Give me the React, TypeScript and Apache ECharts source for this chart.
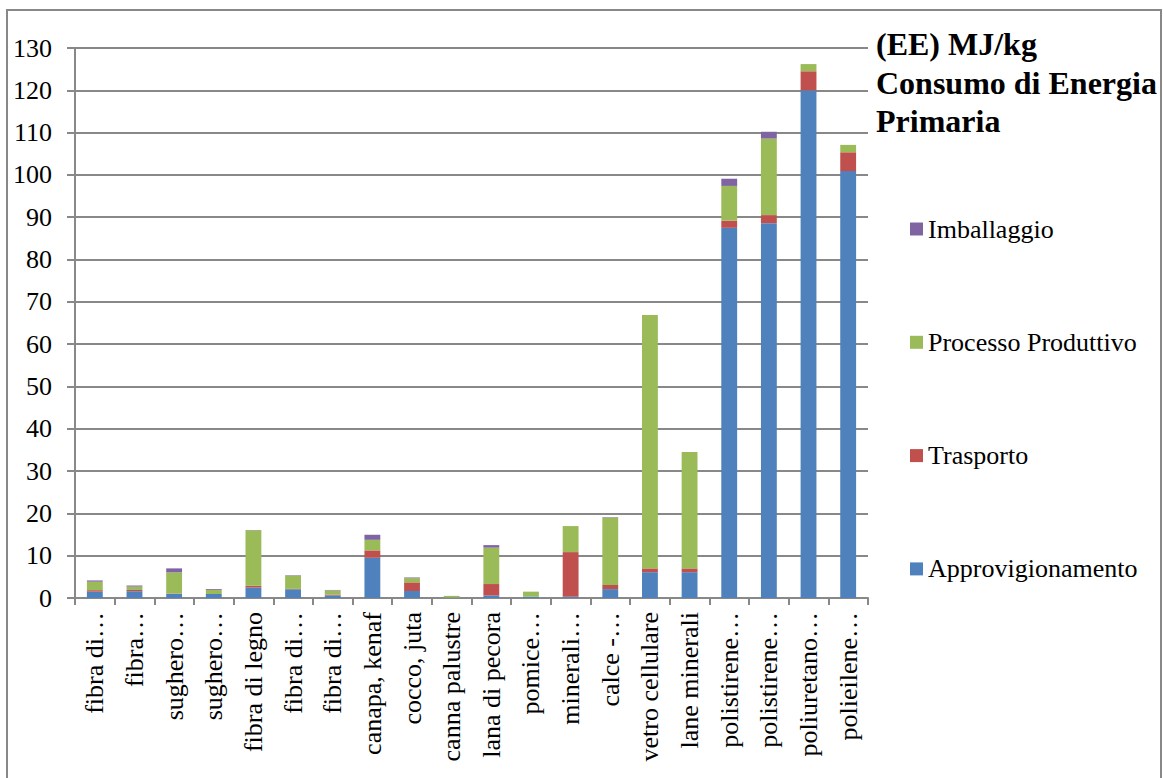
import React, { useEffect, useRef } from "react";
import * as echarts from "echarts";

// Insulation materials (labels as shown on the axis)
const categories = [
  "fibra di…",
  "fibra…",
  "sughero…",
  "sughero…",
  "fibra di legno",
  "fibra di…",
  "fibra di…",
  "canapa, kenaf",
  "cocco, juta",
  "canna palustre",
  "lana di pecora",
  "pomice…",
  "minerali…",
  "calce -…",
  "vetro cellulare",
  "lane minerali",
  "polistirene…",
  "polistirene…",
  "poliuretano…",
  "polieilene…",
];

// Embodied energy components, MJ/kg
const approvvigionamento = [1.5, 1.6, 0.95, 0.95, 2.5, 2.05, 0.6, 9.5, 1.65, 0.1, 0.6, 0.3, 0.3, 2.1, 6.1, 6.1, 87.5, 88.6, 120, 100.9];
const trasporto = [0.35, 0.3, 0.1, 0, 0.4, 0.1, 0.2, 1.75, 2.05, 0, 2.7, 0, 10.55, 1.0, 0.9, 0.9, 1.7, 1.9, 4.5, 4.45];
const processoProduttivo = [2.0, 0.8, 5.0, 0.95, 13.1, 3.15, 1.0, 2.5, 1.0, 0.4, 8.6, 1.2, 6.15, 15.9, 59.9, 27.5, 8.2, 18.1, 1.7, 1.75];
const imballaggio = [0.3, 0.25, 0.95, 0.2, 0.1, 0.1, 0.1, 1.2, 0.15, 0, 0.6, 0, 0, 0.1, 0, 0, 1.7, 1.6, 0, 0];

const seriesNames = ["Approvigionamento", "Trasporto", "Processo Produttivo", "Imballaggio"];
const seriesColors = ["#4f81bd", "#c0504d", "#9bbb59", "#8064a2"];
const seriesValues = [approvvigionamento, trasporto, processoProduttivo, imballaggio];

const yTicks = { min: 0, max: 130, interval: 10 };

const FONT = "'Liberation Serif', 'Times New Roman', serif";
const GRAY = "#888888";

export default function App() {
  const ref = useRef<HTMLDivElement>(null);

  useEffect(() => {
    if (!ref.current) return;
    const chart = echarts.init(ref.current, undefined, { renderer: "svg" });

    chart.setOption({
      animation: false,
      backgroundColor: "#ffffff",
      title: {
        text: "(EE) MJ/kg\nConsumo di Energia\nPrimaria",
        left: 876,
        top: 25,
        padding: 0,
        textStyle: {
          fontFamily: FONT,
          fontWeight: "bold",
          fontSize: 32,
          lineHeight: 38.5,
          color: "#000",
        },
      },
      legend: {
        orient: "vertical",
        left: 910,
        top: 216,
        itemWidth: 13,
        itemHeight: 13,
        itemGap: 87.3,
        icon: "rect",
        padding: 0,
        data: [...seriesNames].reverse(),
        textStyle: {
          fontFamily: FONT,
          fontSize: 26,
          lineHeight: 25,
          color: "#000",
          padding: [0, 0, 0, 0],
        },
      },
      graphic: [
        {
          type: "rect",
          shape: { x: 7, y: 10, width: 1154, height: 775 },
          style: { fill: "none", stroke: GRAY, lineWidth: 2 },
          silent: true,
        },
      ],
      grid: { left: 75, right: 295, top: 48, bottom: 180, containLabel: false },
      xAxis: {
        type: "category",
        data: categories,
        boundaryGap: true,
        axisLine: { show: true, lineStyle: { color: GRAY, width: 2 } },
        axisTick: { show: true, length: 7, alignWithLabel: false, lineStyle: { color: GRAY, width: 2 } },
        axisLabel: {
          rotate: 90,
          interval: 0,
          margin: 14,
          fontFamily: FONT,
          fontSize: 26,
          color: "#000",
        },
      },
      yAxis: {
        type: "value",
        min: yTicks.min,
        max: yTicks.max,
        interval: yTicks.interval,
        axisLine: { show: true, lineStyle: { color: GRAY, width: 2 } },
        axisTick: { show: true, length: 8, lineStyle: { color: GRAY, width: 2 } },
        splitLine: { show: true, lineStyle: { color: GRAY, width: 2 } },
        axisLabel: {
          margin: 23,
          fontFamily: FONT,
          fontSize: 26,
          color: "#000",
        },
      },
      series: seriesNames.map((name, i) => ({
        name,
        type: "bar",
        stack: "ee",
        barWidth: "40%",
        data: seriesValues[i],
        itemStyle: { color: seriesColors[i] },
      })),
    });

    return () => chart.dispose();
  }, []);

  return (
    <div
      ref={ref}
      style={{ position: "absolute", left: 0, top: 0, width: 1163, height: 778 }}
    />
  );
}
